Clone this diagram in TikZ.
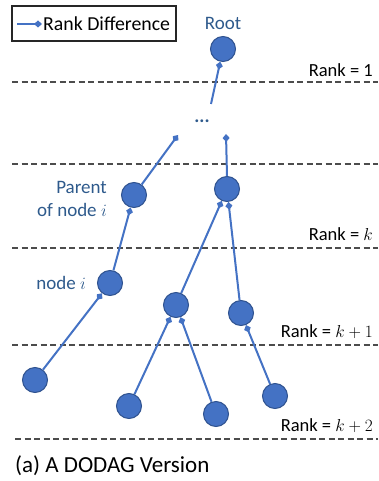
\documentclass[tikz,border=0pt]{standalone}
\usepackage{fontspec}
\setmainfont{Carlito}
\usetikzlibrary{arrows.meta}
\definecolor{nodeblue}{HTML}{4472C4}
\definecolor{nodeedge}{HTML}{2F528F}
\definecolor{labelblue}{HTML}{2E5A8C}
\begin{document}
\begin{tikzpicture}[x=1pt,y=-1pt,
  vtx/.style={circle,fill=nodeblue,draw=nodeedge,line width=1pt,minimum size=25pt,inner sep=0pt},
  link/.style={draw=nodeblue,line width=2pt,-{Diamond[length=8pt,width=7pt]}},
  rankline/.style={draw=black!70,line width=1.3pt,dash pattern=on 6pt off 3.5pt},
  txt/.style={font=\fontsize{18.5}{21}\selectfont,inner sep=0pt},
  ranklabel/.style={txt,anchor=east},
  bluelabel/.style={font=\fontsize{19}{22}\selectfont,inner sep=0pt,text=labelblue}]
\useasboundingbox (0,0) rectangle (378,481);

% legend
\node (legend) [draw=black!85,line width=1.2pt,minimum width=164pt,minimum height=35pt,inner sep=0pt] at (94,23.5) {};
\node (legtxt) [anchor=west,inner sep=0pt,font=\fontsize{19.8}{22}\selectfont] at (43,24) {Rank Difference};
\coordinate (legA) at (17,24);
\draw[link] (legA) -- ([xshift=-1pt]legtxt.west);

% rank boundaries
\coordinate (r1a) at (12,82);   \coordinate (r1b) at (378,82);
\coordinate (r2a) at (12,164);  \coordinate (r2b) at (378,164);
\coordinate (r3a) at (12,248);  \coordinate (r3b) at (378,248);
\coordinate (r4a) at (12,345);  \coordinate (r4b) at (378,345);
\coordinate (r5a) at (15,439);  \coordinate (r5b) at (378,439);
\draw[rankline] (r1a) -- (r1b);
\draw[rankline] (r2a) -- (r2b);
\draw[rankline] (r3a) -- (r3b);
\draw[rankline] (r4a) -- (r4b);
\draw[rankline] (r5a) -- (r5b);

\node (lab1) [ranklabel] at (373,70) {Rank = 1};
\node (labk) [ranklabel] at (373,234) {Rank = $k$};
\node (labk1) [ranklabel] at (373,332) {Rank = $k+1$};
\node (labk2) [ranklabel] at (373,426) {Rank = $k+2$};

% vertices
\node (root) [vtx] at (223,49) {};
\node (parent) [vtx] at (134,195) {};
\node (rk) [vtx] at (227,189) {};
\node (nodei) [vtx] at (110,283) {};
\node (m1) [vtx] at (176,305) {};
\node (m2) [vtx] at (241,313) {};
\node (b1) [vtx] at (35,380) {};
\node (b2) [vtx] at (129,406) {};
\node (b3) [vtx] at (216,414) {};
\node (b4) [vtx] at (275,396) {};

% labels
\node (rootlab) [bluelabel] at (223,23) {Root};
\node (parlab) [bluelabel,align=right,anchor=east] at (107,199) {Parent\\[1pt]of node $i$};
\node (nilab) [bluelabel,anchor=east] at (86,283) {node $i$};
\node (dots) [bluelabel] at (202,121) {\textbf{...}};

% free ends near the elided part
\coordinate (dup) at (211,104);
\coordinate (pL) at (178,135);
\coordinate (pR) at (226,134);

% links toward parents
\draw[link] (dup) -- (root);
\draw[link] (parent) -- (pL);
\draw[link] (rk.north) -- (pR);
\draw[link] (nodei) -- (parent);
\draw[link] (b1) -- (nodei);
\draw[link] (m1) -- (rk);
\draw[link] (m2) -- (rk);
\draw[link] (b2) -- (m1);
\draw[link] (b3) -- (m1);
\draw[link] (b4) -- (m2);

% caption
\node (caption) [anchor=west,inner sep=0pt,font=\fontsize{23}{26}\selectfont] at (15,466) {(a) A DODAG Version};
\end{tikzpicture}
\end{document}
